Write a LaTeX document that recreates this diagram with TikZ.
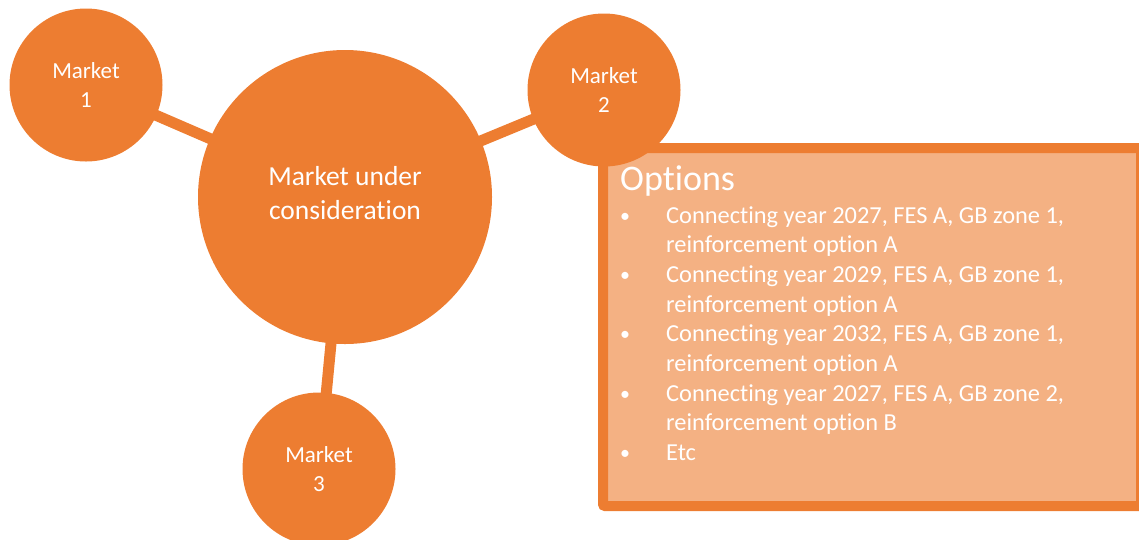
\documentclass[tikz,border=0pt]{standalone}
\usepackage{fontspec}
\setmainfont{Carlito}[Ligatures=NoCommon]
\definecolor{acc}{HTML}{ED7D31}
\definecolor{accl}{HTML}{F4B183}
\pgfdeclarelayer{bg}
\pgfsetlayers{bg,main}
\tikzset{
  market/.style={circle, fill=acc, draw=none, text=white, align=center, inner sep=0pt,
    font=\fontsize{23}{29}\selectfont},
  link/.style={draw=acc, line width=11pt},
  boxtext/.style={anchor=base west, text=white, inner sep=0pt, font=\fontsize{24.4}{29}\selectfont},
  bullet/.style={anchor=base west, text=white, inner sep=0pt, font=\fontsize{20}{24}\selectfont},
}
\begin{document}
\begin{tikzpicture}[x=1pt,y=-1pt]
\useasboundingbox (0,0) rectangle (1139,539);
\clip (0,0) rectangle (1139,539);
% options box
\node[draw=acc, fill=accl, line width=10pt, minimum width=538pt, minimum height=358pt,
  rounded corners=2pt, inner sep=0pt] (box) at (872,327) {};
% circles
\node[market, minimum size=153pt] (m1) at (86,85) {Market\\1};
\node[market, minimum size=153pt] (m2) at (604,90) {Market\\2};
\node[market, minimum size=153pt] (m3) at (319,469) {Market\\3};
\node[market, minimum size=294pt] (c) at (345,197) {};
\node[text=white, align=center, inner sep=0pt, font=\fontsize{27.5}{34}\selectfont] (ct) at (345,193) {Market under\\consideration};
% connectors
\begin{pgfonlayer}{bg}
\draw[link] (m1.center) -- (c.center);
\draw[link] (m2.center) -- (c.center);
\draw[link] (m3.center) -- (c.center);
\end{pgfonlayer}
% box text
\node[boxtext, font=\fontsize{36}{40}\selectfont] (opt) at (620,190) {Options};
\node[bullet] (b1) at (620,222) {•};
\node[boxtext] (t1) at (666,223) {Connecting year 2027, FES A, GB zone 1,};
\node[boxtext] (t1b) at (666,252.7) {reinforcement option A};
\node[bullet] (b2) at (620,281.4) {•};
\node[boxtext] (t2) at (666,282.4) {Connecting year 2029, FES A, GB zone 1,};
\node[boxtext] (t2b) at (666,312.1) {reinforcement option A};
\node[bullet] (b3) at (620,340.8) {•};
\node[boxtext] (t3) at (666,341.8) {Connecting year 2032, FES A, GB zone 1,};
\node[boxtext] (t3b) at (666,371.5) {reinforcement option A};
\node[bullet] (b4) at (620,400.2) {•};
\node[boxtext] (t4) at (666,401.2) {Connecting year 2027, FES A, GB zone 2,};
\node[boxtext] (t4b) at (666,430.9) {reinforcement option B};
\node[bullet] (b5) at (620,459.6) {•};
\node[boxtext] (t5) at (666,460.6) {Etc};
\end{tikzpicture}
\end{document}
